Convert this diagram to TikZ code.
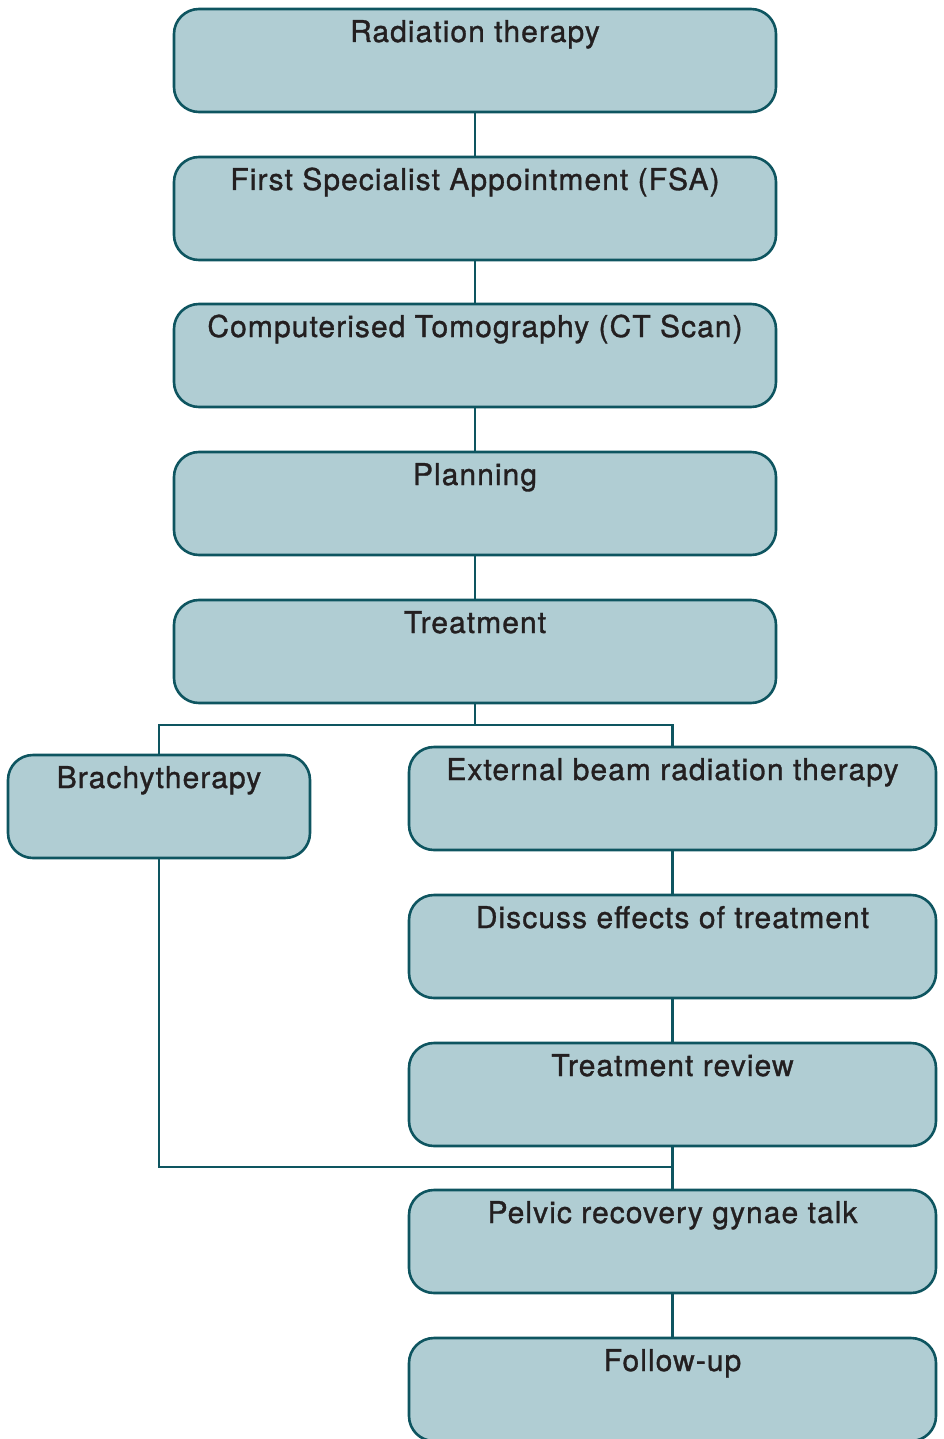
\documentclass[tikz,border=0pt]{standalone}
\usepackage{fontspec}
\setmainfont{TeX Gyre Heros}[LetterSpace=3.5,FakeBold=1.1]
\begin{document}
\begin{tikzpicture}[x=1pt,y=-1pt,
  box/.style={draw=boxline, fill=boxfill, line width=2.6pt, rounded corners=25pt,
    anchor=north west, outer sep=0pt, inner xsep=0pt, inner ysep=0pt, text height=33pt, text depth=70pt,
    font=\fontsize{30}{34}\selectfont, text=txt},
  wide/.style={box, minimum width=602pt},
  rwide/.style={box, minimum width=527pt},
  conn/.style={draw=boxline, line width=2.8pt}]
\definecolor{boxfill}{HTML}{B0CDD3}
\definecolor{boxline}{HTML}{0E5560}
\definecolor{txt}{HTML}{231F20}
\useasboundingbox (0,0) rectangle (943,1439);
\clip (0,0) rectangle (943,1439);
\node[wide] (rt) at (174,9) {Radiation therapy};
\node[wide] (fsa) at (174,157) {First Specialist Appointment (FSA)};
\node[wide] (ct) at (174,304) {Computerised Tomography (CT Scan)};
\node[wide] (pl) at (174,452) {Planning};
\node[wide] (tr) at (174,600) {Treatment};
\node[box, minimum width=302pt] (br) at (8,755) {Brachytherapy};
\node[rwide] (ext) at (409,747) {External beam radiation therapy};
\node[rwide] (dis) at (409,895) {Discuss effects of treatment};
\node[rwide] (rev) at (409,1043) {Treatment review};
\node[rwide] (pel) at (409,1190) {Pelvic recovery gynae talk};
\node[rwide] (fu) at (409,1338) {Follow-up};
\path (tr.south) ++(0,22) coordinate (j1);
\path (rev.south) ++(0,21) coordinate (j2);
\draw[conn] (rt.south) -- (fsa.north);
\draw[conn] (fsa.south) -- (ct.north);
\draw[conn] (ct.south) -- (pl.north);
\draw[conn] (pl.south) -- (tr.north);
\draw[conn] (tr.south) -- (j1);
\draw[conn] (br.north) |- (j1);
\draw[conn] (j1) -| (ext.north);
\draw[conn] (ext.south) -- (dis.north);
\draw[conn] (dis.south) -- (rev.north);
\draw[conn] (rev.south) -- (pel.north);
\draw[conn] (br.south) |- (j2);
\draw[conn] (pel.south) -- (fu.north);
\end{tikzpicture}
\end{document}
